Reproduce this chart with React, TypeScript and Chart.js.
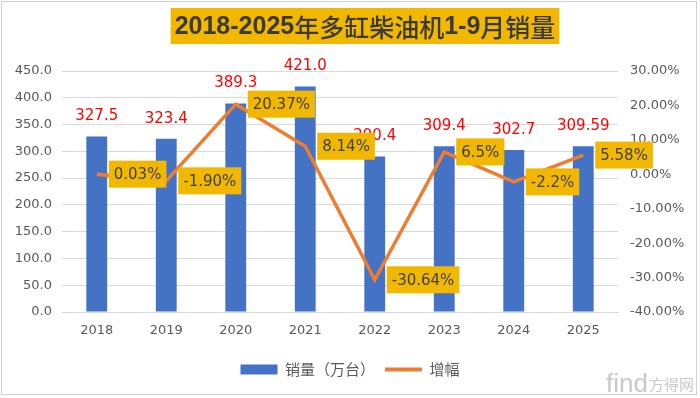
import React, { useEffect, useRef } from 'react';
import { Chart, registerables } from 'chart.js';
Chart.register(...registerables);

const TITLE = '2018-2025年多缸柴油机1-9月销量';
const YEARS = ['2018', '2019', '2020', '2021', '2022', '2023', '2024', '2025'];
const SALES = [327.5, 323.4, 389.3, 421.0, 290.4, 309.4, 302.7, 309.59];
const SALES_LABELS = ['327.5', '323.4', '389.3', '421.0', '290.4', '309.4', '302.7', '309.59'];
const GROWTH = [0.03, -1.9, 20.37, 8.14, -30.64, 6.5, -2.2, 5.58];
const GROWTH_LABELS = ['0.03%', '-1.90%', '20.37%', '8.14%', '-30.64%', '6.5%', '-2.2%', '5.58%'];
const SERIES_NAMES = ['销量（万台）', '增幅'];
const WATERMARK_A = 'find';
const WATERMARK_B = '方得网';

const BAR_COLOR = '#4472C4';
const LINE_COLOR = '#ED7D31';
const GOLD = '#F2B800';
const TEXT_DARK = '#404040';
const TICK_COLOR = '#595959';
const GRID = '#D9D9D9';
const NUM_FONT = "'DejaVu Sans', 'Noto Sans', sans-serif";
const CJK_FONT = "'Noto Sans CJK SC', sans-serif";

const decorPlugin = {
  id: 'decor',
  beforeDraw(chart: any) {
    const ctx = chart.ctx;
    ctx.save();
    ctx.fillStyle = '#ffffff';
    ctx.fillRect(0, 0, chart.width, chart.height);
    ctx.strokeStyle = '#D0D0D0';
    ctx.lineWidth = 1;
    ctx.strokeRect(1.5, 1.5, 695, 393);

    // title
    const parts = TITLE.match(/[\x00-\x7F]+|[^\x00-\x7F]+/g) || [];
    const fontFor = (p: string) =>
      /[\x00-\x7F]/.test(p[0]) ? `bold 25px 'Liberation Sans', ${CJK_FONT}` : `500 25px ${CJK_FONT}`;
    let total = 0;
    const widths = parts.map((p) => {
      ctx.font = fontFor(p);
      const w = ctx.measureText(p).width;
      total += w;
      return w;
    });
    const cx = 365;
    const boxW = total + 8;
    ctx.fillStyle = GOLD;
    ctx.fillRect(cx - boxW / 2, 8, boxW, 36);
    ctx.fillStyle = '#3A3A3A';
    ctx.textBaseline = 'middle';
    ctx.textAlign = 'left';
    let x = cx - total / 2;
    parts.forEach((p, i) => {
      ctx.font = fontFor(p);
      ctx.fillText(p, x, 27);
      x += widths[i];
    });

    // watermark
    ctx.fillStyle = '#C8C8C8';
    ctx.textBaseline = 'alphabetic';
    ctx.font = `26px 'Liberation Sans', sans-serif`;
    ctx.fillText(WATERMARK_A, 606, 392);
    const wa = ctx.measureText(WATERMARK_A).width;
    ctx.font = `15px ${CJK_FONT}`;
    ctx.fillText(WATERMARK_B, 606 + wa + 1, 390);
    ctx.restore();
  },
  afterDatasetsDraw(chart: any) {
    const ctx = chart.ctx;
    ctx.save();
    const barMeta = chart.getDatasetMeta(0);
    ctx.font = `15px ${NUM_FONT}`;
    ctx.fillStyle = '#FF0000';
    ctx.textAlign = 'center';
    ctx.textBaseline = 'middle';
    barMeta.data.forEach((el: any, i: number) => {
      ctx.fillText(SALES_LABELS[i], el.x, el.y - 20);
    });
    const lineMeta = chart.getDatasetMeta(1);
    ctx.font = `15px ${NUM_FONT}`;
    ctx.textAlign = 'left';
    lineMeta.data.forEach((el: any, i: number) => {
      const t = GROWTH_LABELS[i];
      const w = ctx.measureText(t).width + 10;
      const h = 27;
      const bx = el.x + 12;
      const by = el.y - h / 2;
      ctx.fillStyle = GOLD;
      ctx.fillRect(bx, by, w, h);
      ctx.fillStyle = TEXT_DARK;
      ctx.fillText(t, bx + 5, el.y + 1);
    });
    ctx.restore();
  },
};

export default function App() {
  const ref = useRef<HTMLCanvasElement>(null);
  useEffect(() => {
    document.body.style.margin = '0';
    const chart = new Chart(ref.current as HTMLCanvasElement, {
      type: 'bar',
      data: {
        labels: YEARS,
        datasets: [
          {
            type: 'bar',
            label: SERIES_NAMES[0],
            data: SALES,
            backgroundColor: BAR_COLOR,
            borderWidth: 0,
            barPercentage: 0.3,
            categoryPercentage: 1,
            yAxisID: 'y',
            order: 2,
          },
          {
            type: 'line',
            label: SERIES_NAMES[1],
            data: GROWTH,
            borderColor: LINE_COLOR,
            backgroundColor: LINE_COLOR,
            borderWidth: 3.5,
            pointRadius: 0,
            tension: 0,
            yAxisID: 'y1',
            order: 1,
          } as any,
        ],
      },
      options: {
        animation: false,
        responsive: false,
        maintainAspectRatio: false,
        layout: { padding: { top: 71, left: 0, right: 0, bottom: 11 } },
        plugins: {
          title: { display: false },
          tooltip: { enabled: false },
          legend: {
            display: true,
            position: 'bottom',
            labels: {
              usePointStyle: true,
              pointStyleWidth: 37,
              boxHeight: 10,
              padding: 10,
              color: TICK_COLOR,
              font: { family: CJK_FONT, size: 15 },
              generateLabels: (c: any) =>
                c.data.datasets.map((ds: any, i: number) => ({
                  text: ds.label,
                  fillStyle: i === 0 ? BAR_COLOR : LINE_COLOR,
                  strokeStyle: i === 0 ? BAR_COLOR : LINE_COLOR,
                  lineWidth: i === 0 ? 0 : 4,
                  pointStyle: i === 0 ? 'rect' : 'line',
                  hidden: false,
                  datasetIndex: i,
                  fontColor: TICK_COLOR,
                })),
            },
          },
        },
        scales: {
          x: {
            grid: { display: false },
            border: { display: true, color: GRID },
            ticks: { color: TICK_COLOR, font: { family: NUM_FONT, size: 13 }, padding: 3 },
            afterFit: (s: any) => {
              s.height = 40;
            },
          },
          y: {
            position: 'left',
            min: 0,
            max: 450,
            ticks: {
              stepSize: 50,
              color: TICK_COLOR,
              font: { family: NUM_FONT, size: 13 },
              padding: 10,
              callback: (v: any) => Number(v).toFixed(1),
            },
            grid: { color: GRID, drawTicks: false },
            border: { display: false },
            afterFit: (s: any) => {
              s.width = 62;
            },
          },
          y1: {
            position: 'right',
            min: -40,
            max: 30,
            ticks: {
              stepSize: 10,
              color: TICK_COLOR,
              font: { family: NUM_FONT, size: 13 },
              padding: 12,
              callback: (v: any) => Number(v).toFixed(2) + '%',
            },
            grid: { display: false, drawTicks: false },
            border: { display: false },
            afterFit: (s: any) => {
              s.width = 82;
            },
          },
        },
      },
      plugins: [decorPlugin],
    } as any);
    return () => chart.destroy();
  }, []);
  return (
    <div style={{ width: 700, height: 398 }}>
      <canvas ref={ref} width={700} height={398} style={{ display: 'block', width: 700, height: 398 }} />
    </div>
  );
}
